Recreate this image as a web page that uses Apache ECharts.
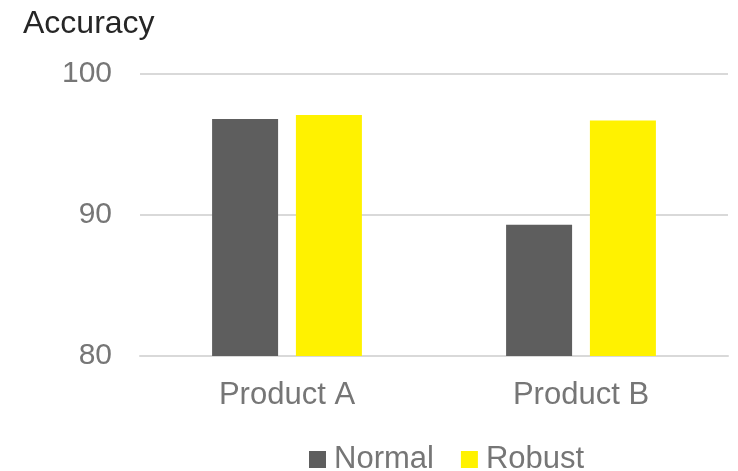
<!DOCTYPE html>
<html>
<head>
<meta charset="utf-8">
<title>Accuracy</title>
<script src="https://cdn.jsdelivr.net/npm/echarts@6/dist/echarts.min.js"></script>
<style>
  html, body { margin: 0; padding: 0; background: #fff; }
  #chart { width: 738px; height: 471px; }
</style>
</head>
<body>
<div id="chart"></div>
<script>
var categories = ['Product A', 'Product B'];
var normalValues = [96.8, 89.3];
var robustValues = [97.1, 96.7];
var yTicks = { min: 80, max: 100, interval: 10 };

var myChart = echarts.init(document.getElementById('chart'));
var option = {
    animation: false,
    textStyle: { fontFamily: 'Liberation Sans, Arial, sans-serif' },
    title: {
        text: 'Accuracy',
        left: 18,
        top: 3,
        textStyle: { color: '#262626', fontSize: 32, fontWeight: 'normal' }
    },
    legend: {
        data: ['Normal', 'Robust'],
        bottom: -9,
        left: 304,
        itemWidth: 17,
        itemHeight: 17,
        itemGap: 27,
        icon: 'rect',
        textStyle: { color: '#767676', fontSize: 31, padding: [0, 0, 0, 3] }
    },
    grid: { left: 140, right: 10, top: 74, bottom: 115 },
    xAxis: {
        type: 'category',
        data: categories,
        axisLine: { lineStyle: { color: '#d9d9d9', width: 2 } },
        axisTick: { show: false },
        axisLabel: { color: '#767676', fontSize: 31, margin: 24 }
    },
    yAxis: {
        type: 'value',
        min: yTicks.min,
        max: yTicks.max,
        interval: yTicks.interval,
        axisLine: { show: false },
        axisTick: { show: false },
        axisLabel: { color: '#767676', fontSize: 30, margin: 28 },
        splitLine: { lineStyle: { color: '#d9d9d9', width: 2 } }
    },
    series: [
        {
            name: 'Normal',
            type: 'bar',
            data: normalValues,
            barWidth: 66,
            barGap: '27%',
            itemStyle: { color: '#5e5e5e' }
        },
        {
            name: 'Robust',
            type: 'bar',
            data: robustValues,
            barWidth: 66,
            itemStyle: { color: '#fff200' }
        }
    ]
};
myChart.setOption(option);
</script>
</body>
</html>
